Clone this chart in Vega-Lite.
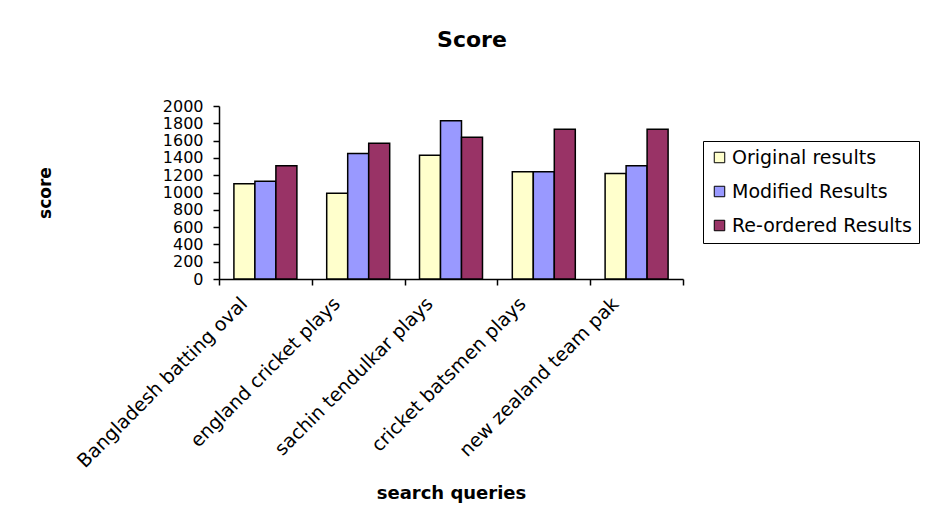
{
  "$schema": "https://vega.github.io/schema/vega-lite/v6.json",
  "width": 464,
  "height": 173,
  "autosize": "none",
  "padding": {"left": 219, "top": 106, "right": 244, "bottom": 240},
  "background": "white",
  "title": {
    "text": "Score",
    "font": "DejaVu Sans",
    "fontSize": 22,
    "fontWeight": "bold",
    "color": "black",
    "frame": "group",
    "anchor": "middle",
    "dx": 21,
    "offset": 29,
    "baseline": "alphabetic"
  },
  "data": {
    "values": [
      {"query": "Bangladesh batting oval", "series": "Original results", "score": 1100},
      {"query": "Bangladesh batting oval", "series": "Modified Results", "score": 1130},
      {"query": "Bangladesh batting oval", "series": "Re-ordered Results", "score": 1310},
      {"query": "england cricket plays", "series": "Original results", "score": 990},
      {"query": "england cricket plays", "series": "Modified Results", "score": 1450},
      {"query": "england cricket plays", "series": "Re-ordered Results", "score": 1570},
      {"query": "sachin tendulkar plays", "series": "Original results", "score": 1430},
      {"query": "sachin tendulkar plays", "series": "Modified Results", "score": 1830},
      {"query": "sachin tendulkar plays", "series": "Re-ordered Results", "score": 1640},
      {"query": "cricket batsmen plays", "series": "Original results", "score": 1240},
      {"query": "cricket batsmen plays", "series": "Modified Results", "score": 1240},
      {"query": "cricket batsmen plays", "series": "Re-ordered Results", "score": 1730},
      {"query": "new zealand team pak", "series": "Original results", "score": 1220},
      {"query": "new zealand team pak", "series": "Modified Results", "score": 1310},
      {"query": "new zealand team pak", "series": "Re-ordered Results", "score": 1730}
    ]
  },
  "mark": {"type": "bar", "stroke": "black", "strokeWidth": 1.5},
  "encoding": {
    "x": {
      "field": "query",
      "type": "nominal",
      "sort": null,
      "scale": {"paddingInner": 0, "paddingOuter": 0},
      "axis": {
        "title": "search queries",
        "titleFont": "DejaVu Sans",
        "titleFontSize": 18,
        "titleFontWeight": "bold",
        "titleColor": "black",
        "titlePadding": 14,
        "labelFont": "DejaVu Sans",
        "labelFontSize": 19,
        "labelColor": "black",
        "labelAngle": -45,
        "labelPadding": 9,
        "labelOffset": -28,
        "labelLimit": 400,
        "tickBand": "extent",
        "tickSize": 6,
        "tickColor": "black",
        "tickWidth": 1.5,
        "domainColor": "black",
        "domainWidth": 1.5
      }
    },
    "xOffset": {
      "field": "series",
      "sort": ["Original results", "Modified Results", "Re-ordered Results"],
      "scale": {"paddingInner": 0, "paddingOuter": 0.71}
    },
    "y": {
      "field": "score",
      "type": "quantitative",
      "scale": {"domain": [0, 2000], "nice": false},
      "axis": {
        "title": "score",
        "titleFont": "DejaVu Sans",
        "titleFontSize": 17,
        "titleFontWeight": "bold",
        "titleColor": "black",
        "titlePadding": 108,
        "values": [0, 200, 400, 600, 800, 1000, 1200, 1400, 1600, 1800, 2000],
        "format": "d",
        "grid": false,
        "labelFont": "DejaVu Sans",
        "labelFontSize": 16,
        "labelColor": "black",
        "labelOverlap": false,
        "labelFlush": false,
        "labelPadding": 10,
        "tickSize": 6,
        "tickColor": "black",
        "tickWidth": 1.5,
        "domainColor": "black",
        "domainWidth": 1.5
      }
    },
    "color": {
      "field": "series",
      "type": "nominal",
      "scale": {
        "domain": ["Original results", "Modified Results", "Re-ordered Results"],
        "range": ["#FFFFCC", "#9999FF", "#993366"]
      },
      "legend": {
        "orient": "none",
        "legendX": 484,
        "legendY": 35,
        "title": null,
        "labelFont": "DejaVu Sans",
        "labelFontSize": 19,
        "labelColor": "black",
        "labelOffset": 3,
        "labelLimit": 300,
        "symbolType": "square",
        "symbolSize": 110,
        "symbolStrokeColor": "black",
        "symbolStrokeWidth": 1,
        "rowPadding": 14,
        "padding": 7,
        "strokeColor": "black",
        "fillColor": "white"
      }
    }
  },
  "config": {"view": {"stroke": null}}
}
